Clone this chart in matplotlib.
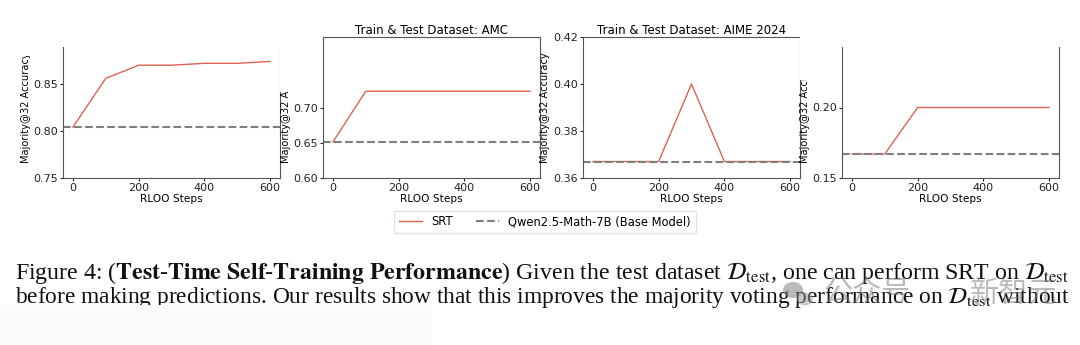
import matplotlib
matplotlib.use("Agg")
import matplotlib.pyplot as plt
from matplotlib.patches import Rectangle, Ellipse

# values
steps = [0, 100, 200, 300, 400, 500, 600]
math_srt = [0.804, 0.856, 0.870, 0.870, 0.872, 0.872, 0.874]
amc_srt = [0.651, 0.723, 0.723, 0.723, 0.723, 0.723, 0.723]
aime24_srt = [0.367, 0.367, 0.367, 0.400, 0.367, 0.367, 0.367]
aime25_srt = [0.167, 0.167, 0.200, 0.200, 0.200, 0.200, 0.200]
base_values = [0.804, 0.651, 0.367, 0.167]

titles = ["", "Train & Test Dataset: AMC", "Train & Test Dataset: AIME 2024", ""]
ylims = [(0.75, 0.90), (0.60, 0.80), (0.36, 0.42), (0.15, 0.25)]
yticks = [[0.75, 0.80, 0.85], [0.60, 0.65, 0.70], [0.36, 0.38, 0.40, 0.42], [0.15, 0.20]]
xticks = [0, 200, 400, 600]

caption1 = (r"Figure 4: ($\mathbf{Test}$-$\mathbf{Time}$ $\mathbf{Self}$-$\mathbf{Training}$ "
            r"$\mathbf{Performance}$) Given the test dataset $\mathcal{D}_{\rm test}$, "
            r"one can perform SRT on $\mathcal{D}_{\rm test}$")
caption2 = (r"before making predictions. Our results show that this improves the majority "
            r"voting performance on $\mathcal{D}_{\rm test}$ without")

plt.rcParams['mathtext.fontset'] = 'stix'
plt.rcParams['font.size'] = 8

W, H = 1080, 345
fig = plt.figure(figsize=(W / 100, H / 100), dpi=100)

srt_color = '#db6450'
base_color = '#7f7f7f'
spine_color = '#555555'

lefts = [63, 323, 583, 842]
all_srt = [math_srt, amc_srt, aime24_srt, aime25_srt]
for i, left in enumerate(lefts):
    ax = fig.add_axes([left / W, (H - 178) / H, 217 / W, 141 / H])
    ax.plot(steps, all_srt[i], color=srt_color, lw=1.0, label='SRT')
    ax.axhline(base_values[i], color=base_color, lw=1.5, ls='--',
               label='Qwen2.5-Math-7B (Base Model)')
    ax.set_ylim(*ylims[i])
    ax.set_yticks(yticks[i])
    ax.set_yticklabels([f'{v:.2f}' for v in yticks[i]])
    ax.set_xticks(xticks)
    ax.set_xlabel('RLOO Steps', fontsize=7.6, labelpad=1)
    ax.set_ylabel('Majority@32 Accuracy', fontsize=7.1, labelpad=2)
    if titles[i]:
        ax.set_title(titles[i], fontsize=8.5, pad=2)
    ax.tick_params(length=2, pad=1.5, colors='#222222', labelsize=8)
    for s in ax.spines.values():
        s.set_color(spine_color)
        s.set_linewidth(0.8)
    if i == 0:
        handles, labels = ax.get_legend_handles_labels()

fig.legend(handles, labels, loc='center', bbox_to_anchor=(545 / W, 1 - 222 / H),
           ncol=2, fontsize=8.3, frameon=True, edgecolor='#dddddd', fancybox=False)


def cover(x0, y0, x1, y1, color='white'):
    # patches over the parts that are blurred out in the reference
    fig.add_artist(Rectangle((x0 / W, 1 - y1 / H), (x1 - x0) / W, (y1 - y0) / H,
                             transform=fig.transFigure, facecolor=color,
                             edgecolor='none', zorder=20))


cover(20, 0, 290, 47)
cover(20, 0, 62, 56)
cover(280, 30, 322, 92)
cover(800, 0, 1075, 47)
cover(800, 0, 840, 80)

# caption in Times-like serif, each line stretched to the text width
renderer = fig.canvas.get_renderer()
for text, y in [(caption1, 279), (caption2, 303)]:
    t = fig.text(15 / W, 1 - y / H, text, fontsize=15, family='Liberation Serif',
                 va='baseline', ha='left', color='#111111')
    w = t.get_window_extent(renderer).width
    t.set_fontsize(15 * (1072 - 15) / w)

cover(0, 305, 432, H, color='#fafafa')

# watermark
fig.add_artist(Ellipse((793 / W, 1 - 290 / H), 20 / W, 16 / H, transform=fig.transFigure,
                       facecolor='#777777', alpha=0.5, edgecolor='none', zorder=25))
fig.add_artist(Ellipse((805 / W, 1 - 299 / H), 16 / W, 13 / H, transform=fig.transFigure,
                       facecolor='#999999', alpha=0.5, edgecolor='none', zorder=25))
fig.text(867 / W, 1 - 294 / H, '公众号', fontsize=21, family='Noto Sans CJK SC',
         color='#777777', alpha=0.5, ha='center', va='center', zorder=25)
fig.text(1013 / W, 1 - 294 / H, '新智元', fontsize=21, family='Noto Sans CJK SC',
         color='#777777', alpha=0.5, ha='center', va='center', zorder=25)

fig.savefig('out.png', dpi=100)
